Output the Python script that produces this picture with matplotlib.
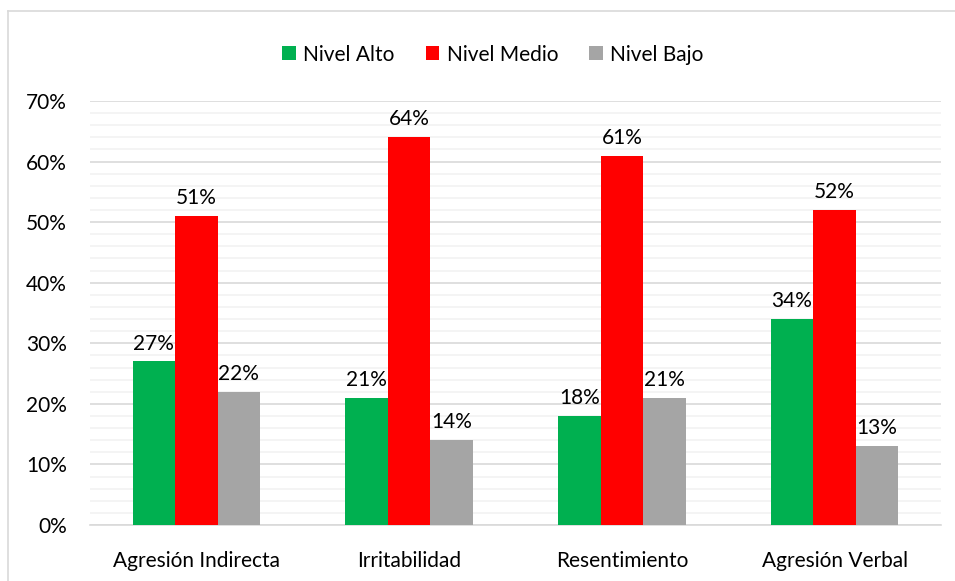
import matplotlib
matplotlib.use("Agg")
import matplotlib.pyplot as plt
from matplotlib.lines import Line2D
import numpy as np

categories = ["Agresión Indirecta", "Irritabilidad", "Resentimiento", "Agresión Verbal"]
series_names = ["Nivel Alto", "Nivel Medio", "Nivel Bajo"]
alto = [27, 21, 18, 34]
medio = [51, 64, 61, 52]
bajo = [22, 14, 21, 13]
colors = ["#00b050", "#ff0000", "#a5a5a5"]
yticks = [0, 10, 20, 30, 40, 50, 60, 70]

plt.rcParams['font.family'] = ['Lato', 'DejaVu Sans']
FS = 15

fig = plt.figure(figsize=(9.55, 5.81), dpi=100)
ax = fig.add_axes([90/955, 56/581, (941-90)/955, (525-101)/581])

x = np.arange(len(categories))
w = 0.2
for i, (vals, name, c) in enumerate(zip([alto, medio, bajo], series_names, colors)):
    pos = x + (i - 1) * w
    ax.bar(pos, vals, width=w, color=c, label=name, zorder=3)
    for p, v in zip(pos, vals):
        ax.text(p, v + 1.3, f"{v}%", ha="center", va="bottom", fontsize=FS, color="#000000", zorder=4)

ax.set_xlim(-0.5, 3.5)
ax.set_ylim(0, 70)
ax.set_yticks(yticks)
ax.set_yticklabels([f"{t}%" for t in yticks], fontsize=FS)
ax.set_yticks(np.arange(0, 71, 2), minor=True)
ax.set_xticks(x)
ax.set_xticklabels(categories, fontsize=FS)
ax.tick_params(axis="both", which="both", length=0, colors="#000000")
ax.tick_params(axis="y", pad=16.5)
ax.tick_params(axis="x", pad=19)
ax.grid(axis="y", which="minor", color="#f2f2f2", linewidth=1.2, zorder=0)
ax.grid(axis="y", which="major", color="#d9d9d9", linewidth=1.2, zorder=1)
for s in ["top", "right", "left"]:
    ax.spines[s].set_visible(False)
ax.spines["bottom"].set_color("#d9d9d9")
ax.spines["bottom"].set_linewidth(1.2)

ax.legend(loc="upper center", bbox_to_anchor=(493/955, (581-26)/581), bbox_transform=fig.transFigure,
          ncol=3, frameon=False, fontsize=FS, handlelength=0.65, handleheight=0.65,
          handletextpad=0.35, columnspacing=1.5)

fig.add_artist(Line2D([8/955, 8/955], [0, 1 - 11/581], transform=fig.transFigure, color="#d9d9d9", linewidth=1.2))
fig.add_artist(Line2D([8/955, 1], [1 - 11/581, 1 - 11/581], transform=fig.transFigure, color="#d9d9d9", linewidth=1.2))

fig.savefig("out.png", dpi=100)
